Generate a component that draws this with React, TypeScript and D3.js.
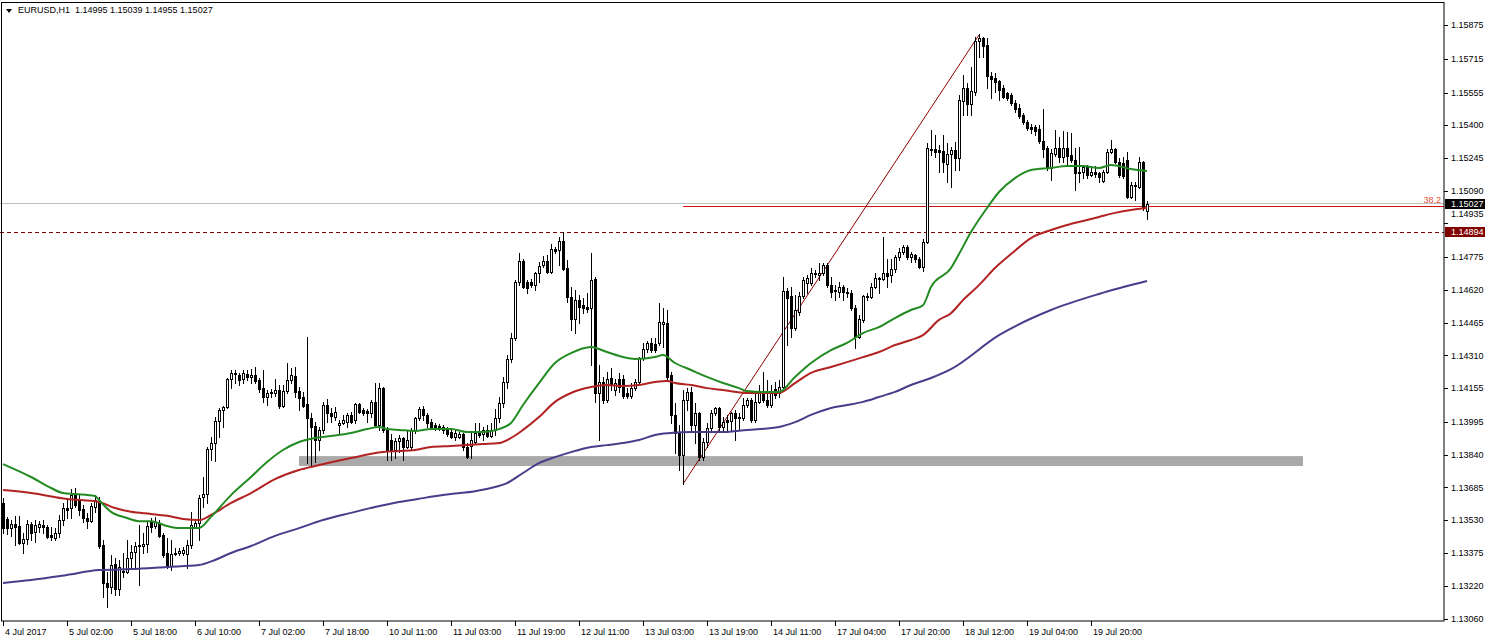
import React from 'react';
import * as d3 from 'd3';

const W = 1487;
const H = 643;

const symbolTitle = 'EURUSD,H1';
const titleValues = ['1.14995', '1.15039', '1.14955', '1.15027'];

const timeLabels = [
  '4 Jul 2017', '5 Jul 02:00', '5 Jul 18:00', '6 Jul 10:00', '7 Jul 02:00', '7 Jul 18:00',
  '10 Jul 11:00', '11 Jul 03:00', '11 Jul 19:00', '12 Jul 11:00', '13 Jul 03:00', '13 Jul 19:00',
  '14 Jul 11:00', '17 Jul 04:00', '17 Jul 20:00', '18 Jul 12:00', '19 Jul 04:00', '19 Jul 20:00',
];
const timeLabelStep = 16;

const priceTicks = [
  1.15875, 1.15715, 1.15555, 1.154, 1.15245, 1.1509, 1.14935, 1.14775, 1.1462, 1.14465,
  1.1431, 1.14155, 1.13995, 1.1384, 1.13685, 1.1353, 1.13375, 1.1322, 1.1306,
];

// [open, high, low, close], one row per H1 bar
const bars: number[][] = [
  [1.13611,1.13634,1.13469,1.13492],[1.13535,1.13545,1.13464,1.13492],[1.13492,1.13530,1.13455,1.13511],[1.13511,1.13550,1.13411,1.13497],
  [1.13502,1.13550,1.13416,1.13421],[1.13421,1.13469,1.13374,1.13440],[1.13440,1.13530,1.13416,1.13511],[1.13511,1.13521,1.13435,1.13469],
  [1.13474,1.13530,1.13426,1.13506],[1.13497,1.13525,1.13474,1.13511],[1.13506,1.13530,1.13469,1.13497],[1.13497,1.13506,1.13445,1.13450],
  [1.13459,1.13497,1.13435,1.13450],[1.13445,1.13492,1.13435,1.13469],[1.13469,1.13554,1.13450,1.13530],[1.13530,1.13611,1.13506,1.13587],
  [1.13587,1.13634,1.13540,1.13578],[1.13587,1.13677,1.13540,1.13648],[1.13648,1.13682,1.13592,1.13601],[1.13625,1.13648,1.13554,1.13578],
  [1.13582,1.13601,1.13521,1.13540],[1.13540,1.13564,1.13492,1.13525],[1.13525,1.13611,1.13521,1.13597],[1.13592,1.13648,1.13569,1.13625],
  [1.13616,1.13639,1.13397,1.13407],[1.13411,1.13435,1.13166,1.13232],[1.13232,1.13284,1.13118,1.13213],[1.13213,1.13364,1.13185,1.13317],
  [1.13322,1.13350,1.13175,1.13203],[1.13203,1.13341,1.13175,1.13308],[1.13284,1.13374,1.13260,1.13289],[1.13284,1.13435,1.13279,1.13350],
  [1.13350,1.13411,1.13308,1.13379],[1.13379,1.13426,1.13303,1.13407],[1.13407,1.13506,1.13222,1.13411],[1.13407,1.13469,1.13374,1.13416],
  [1.13416,1.13521,1.13379,1.13502],[1.13521,1.13540,1.13474,1.13497],[1.13502,1.13545,1.13492,1.13521],[1.13516,1.13530,1.13450,1.13455],
  [1.13459,1.13469,1.13355,1.13364],[1.13374,1.13445,1.13303,1.13308],[1.13313,1.13435,1.13293,1.13369],[1.13374,1.13397,1.13364,1.13369],
  [1.13374,1.13397,1.13364,1.13383],[1.13374,1.13402,1.13364,1.13388],[1.13369,1.13435,1.13303,1.13411],[1.13411,1.13569,1.13397,1.13506],
  [1.13497,1.13525,1.13492,1.13516],[1.13516,1.13648,1.13435,1.13634],[1.13639,1.13734,1.13592,1.13653],[1.13653,1.13876,1.13611,1.13866],
  [1.13866,1.13924,1.13814,1.13895],[1.13895,1.14018,1.13809,1.13999],[1.13999,1.14061,1.13924,1.14051],[1.14051,1.14071,1.13971,1.14066],
  [1.14066,1.14203,1.14061,1.14198],[1.14198,1.14241,1.14155,1.14227],[1.14227,1.14241,1.14179,1.14222],[1.14217,1.14227,1.14170,1.14193],
  [1.14198,1.14241,1.14179,1.14227],[1.14222,1.14241,1.14193,1.14208],[1.14208,1.14245,1.14179,1.14217],[1.14217,1.14255,1.14179,1.14189],
  [1.14193,1.14203,1.14137,1.14150],[1.14155,1.14241,1.14090,1.14113],[1.14113,1.14146,1.14075,1.14132],[1.14132,1.14150,1.14113,1.14137],
  [1.14132,1.14198,1.14118,1.14146],[1.14146,1.14170,1.14061,1.14071],[1.14071,1.14170,1.14066,1.14141],[1.14141,1.14274,1.14132,1.14193],
  [1.14193,1.14250,1.14179,1.14217],[1.14212,1.14255,1.14113,1.14137],[1.14141,1.14160,1.14051,1.14108],[1.14113,1.14137,1.14066,1.14071],
  [1.14080,1.14397,1.13800,1.14013],[1.14013,1.14037,1.13790,1.13971],[1.13976,1.13994,1.13805,1.13909],[1.13909,1.13971,1.13862,1.13957],
  [1.13957,1.14090,1.13942,1.14075],[1.14075,1.14104,1.13994,1.14037],[1.14037,1.14061,1.13994,1.14023],[1.14018,1.14066,1.14004,1.14042],
  [1.13980,1.14004,1.13942,1.13990],[1.13990,1.14028,1.13985,1.14004],[1.13994,1.14037,1.13971,1.14028],[1.14028,1.14042,1.13990,1.13994],
  [1.14004,1.14085,1.13990,1.14080],[1.14080,1.14085,1.14037,1.14042],[1.14051,1.14061,1.14028,1.14037],[1.14047,1.14056,1.13994,1.14037],
  [1.14037,1.14099,1.14018,1.14090],[1.14090,1.14179,1.13971,1.13980],[1.13980,1.14179,1.13957,1.14155],[1.14155,1.14160,1.13947,1.13957],
  [1.13957,1.13971,1.13814,1.13862],[1.13909,1.13938,1.13814,1.13862],[1.13862,1.13919,1.13824,1.13904],[1.13904,1.13933,1.13852,1.13919],
  [1.13919,1.13924,1.13814,1.13876],[1.13876,1.13957,1.13871,1.13909],[1.13876,1.13966,1.13862,1.13957],[1.13957,1.14018,1.13942,1.14013],
  [1.14013,1.14066,1.14004,1.14056],[1.14056,1.14071,1.14004,1.14028],[1.14028,1.14037,1.13971,1.13990],[1.13994,1.14009,1.13966,1.13971],
  [1.13980,1.13990,1.13957,1.13971],[1.13971,1.13985,1.13957,1.13976],[1.13971,1.13980,1.13942,1.13957],[1.13961,1.13971,1.13928,1.13938],
  [1.13947,1.13966,1.13919,1.13924],[1.13924,1.13957,1.13909,1.13942],[1.13924,1.13947,1.13919,1.13938],[1.13938,1.13942,1.13862,1.13876],
  [1.13876,1.13895,1.13824,1.13828],[1.13881,1.13942,1.13824,1.13909],[1.13900,1.13990,1.13895,1.13942],[1.13947,1.13990,1.13924,1.13933],
  [1.13938,1.13971,1.13909,1.13957],[1.13957,1.13980,1.13924,1.13928],[1.13928,1.13990,1.13924,1.13957],[1.13957,1.14056,1.13933,1.14013],
  [1.14013,1.14113,1.13994,1.14085],[1.14085,1.14208,1.14066,1.14184],[1.14184,1.14312,1.14155,1.14293],[1.14293,1.14416,1.14278,1.14392],
  [1.14392,1.14667,1.14383,1.14657],[1.14657,1.14795,1.14643,1.14757],[1.14757,1.14767,1.14629,1.14634],[1.14657,1.14667,1.14605,1.14629],
  [1.14657,1.14671,1.14634,1.14643],[1.14643,1.14705,1.14620,1.14700],[1.14700,1.14752,1.14657,1.14733],[1.14738,1.14781,1.14729,1.14757],
  [1.14757,1.14786,1.14700,1.14705],[1.14705,1.14838,1.14700,1.14814],[1.14814,1.14824,1.14795,1.14805],[1.14809,1.14871,1.14738,1.14852],
  [1.14852,1.14894,1.14714,1.14719],[1.14724,1.14762,1.14563,1.14586],[1.14586,1.14634,1.14430,1.14482],[1.14482,1.14620,1.14416,1.14572],
  [1.14572,1.14596,1.14463,1.14539],[1.14548,1.14582,1.14511,1.14534],[1.14539,1.14605,1.14515,1.14529],[1.14534,1.14795,1.14264,1.14667],
  [1.14671,1.14681,1.14090,1.14132],[1.14132,1.14264,1.13909,1.14184],[1.14184,1.14208,1.14085,1.14099],[1.14099,1.14231,1.14090,1.14198],
  [1.14203,1.14250,1.14146,1.14174],[1.14146,1.14198,1.14122,1.14179],[1.14198,1.14227,1.14137,1.14160],[1.14198,1.14217,1.14108,1.14118],
  [1.14132,1.14155,1.14108,1.14118],[1.14118,1.14179,1.14108,1.14155],[1.14155,1.14198,1.14146,1.14184],[1.14184,1.14302,1.14170,1.14297],
  [1.14297,1.14369,1.14288,1.14340],[1.14340,1.14378,1.14326,1.14369],[1.14369,1.14392,1.14326,1.14335],[1.14364,1.14392,1.14326,1.14335],
  [1.14369,1.14558,1.14359,1.14468],[1.14459,1.14534,1.14350,1.14468],[1.14463,1.14525,1.14193,1.14208],[1.14217,1.14231,1.13990,1.14028],
  [1.14028,1.14085,1.13847,1.13942],[1.13942,1.13980,1.13767,1.13838],[1.13838,1.14146,1.13701,1.14099],[1.14099,1.14155,1.14051,1.14137],
  [1.14137,1.14160,1.13957,1.13980],[1.13980,1.14085,1.13895,1.14037],[1.14037,1.14042,1.13814,1.13828],[1.13828,1.13919,1.13814,1.13900],
  [1.13900,1.13990,1.13876,1.13966],[1.13966,1.14051,1.13957,1.14037],[1.14037,1.14066,1.14028,1.14061],[1.14061,1.14066,1.13957,1.13971],
  [1.13971,1.14018,1.13957,1.13994],[1.14004,1.14028,1.13957,1.13994],[1.13999,1.14042,1.13957,1.14037],[1.14037,1.14051,1.13909,1.14013],
  [1.14013,1.14037,1.13957,1.14018],[1.14013,1.14108,1.14004,1.14075],[1.14075,1.14108,1.14066,1.14099],[1.14099,1.14108,1.13994,1.14004],
  [1.14004,1.14132,1.13994,1.14090],[1.14090,1.14170,1.14085,1.14132],[1.14132,1.14231,1.14090,1.14099],[1.14099,1.14193,1.14066,1.14075],
  [1.14075,1.14170,1.14066,1.14132],[1.14150,1.14184,1.14108,1.14122],[1.14132,1.14193,1.14113,1.14160],[1.14160,1.14681,1.14155,1.14615],
  [1.14615,1.14629,1.14359,1.14582],[1.14591,1.14634,1.14397,1.14440],[1.14440,1.14596,1.14430,1.14525],[1.14515,1.14610,1.14501,1.14591],
  [1.14591,1.14681,1.14582,1.14667],[1.14653,1.14691,1.14605,1.14676],[1.14653,1.14724,1.14643,1.14700],[1.14700,1.14714,1.14681,1.14695],
  [1.14691,1.14748,1.14667,1.14700],[1.14700,1.14748,1.14691,1.14738],[1.14738,1.14748,1.14634,1.14643],[1.14643,1.14681,1.14586,1.14610],
  [1.14620,1.14643,1.14572,1.14615],[1.14610,1.14657,1.14586,1.14634],[1.14634,1.14643,1.14572,1.14610],[1.14610,1.14629,1.14586,1.14605],
  [1.14605,1.14620,1.14525,1.14534],[1.14534,1.14548,1.14345,1.14397],[1.14397,1.14501,1.14392,1.14482],[1.14478,1.14596,1.14468,1.14591],
  [1.14586,1.14605,1.14572,1.14591],[1.14586,1.14653,1.14582,1.14634],[1.14634,1.14700,1.14629,1.14676],[1.14671,1.14681,1.14605,1.14676],
  [1.14671,1.14871,1.14667,1.14700],[1.14700,1.14767,1.14634,1.14686],[1.14691,1.14767,1.14657,1.14719],[1.14719,1.14786,1.14705,1.14776],
  [1.14776,1.14819,1.14762,1.14800],[1.14800,1.14833,1.14790,1.14824],[1.14824,1.14833,1.14767,1.14776],[1.14776,1.14800,1.14752,1.14790],
  [1.14786,1.14790,1.14752,1.14767],[1.14767,1.14776,1.14724,1.14729],[1.14729,1.14861,1.14710,1.14847],[1.14847,1.15316,1.14842,1.15292],
  [1.15288,1.15378,1.15259,1.15283],[1.15288,1.15354,1.15250,1.15273],[1.15283,1.15307,1.15179,1.15273],[1.15278,1.15354,1.15179,1.15226],
  [1.15217,1.15316,1.15131,1.15264],[1.15264,1.15297,1.15108,1.15283],[1.15283,1.15321,1.15188,1.15245],[1.15245,1.15544,1.15188,1.15520],
  [1.15515,1.15638,1.15449,1.15576],[1.15576,1.15600,1.15449,1.15501],[1.15501,1.15676,1.15449,1.15562],[1.15558,1.15818,1.15543,1.15799],
  [1.15799,1.15832,1.15723,1.15813],[1.15813,1.15818,1.15723,1.15776],[1.15780,1.15813,1.15576,1.15633],[1.15633,1.15652,1.15529,1.15619],
  [1.15624,1.15647,1.15558,1.15605],[1.15610,1.15614,1.15520,1.15567],[1.15576,1.15591,1.15529,1.15534],[1.15553,1.15558,1.15520,1.15529],
  [1.15543,1.15553,1.15496,1.15506],[1.15506,1.15520,1.15463,1.15477],[1.15482,1.15501,1.15434,1.15444],[1.15449,1.15458,1.15406,1.15416],
  [1.15416,1.15425,1.15378,1.15387],[1.15392,1.15406,1.15364,1.15382],[1.15392,1.15401,1.15354,1.15373],[1.15382,1.15401,1.15316,1.15326],
  [1.15326,1.15477,1.15250,1.15288],[1.15292,1.15302,1.15188,1.15198],[1.15198,1.15288,1.15141,1.15269],[1.15264,1.15378,1.15255,1.15292],
  [1.15292,1.15345,1.15226,1.15250],[1.15250,1.15373,1.15226,1.15292],[1.15292,1.15368,1.15212,1.15255],[1.15259,1.15363,1.15226,1.15236],
  [1.15236,1.15292,1.15093,1.15174],[1.15174,1.15297,1.15131,1.15179],[1.15179,1.15207,1.15150,1.15203],[1.15203,1.15212,1.15150,1.15165],
  [1.15165,1.15198,1.15160,1.15179],[1.15179,1.15207,1.15155,1.15169],[1.15174,1.15179,1.15131,1.15155],[1.15136,1.15188,1.15131,1.15179],
  [1.15179,1.15288,1.15174,1.15273],[1.15273,1.15330,1.15269,1.15288],[1.15288,1.15292,1.15221,1.15226],[1.15226,1.15245,1.15155,1.15165],
  [1.15221,1.15250,1.15150,1.15160],[1.15236,1.15273,1.15056,1.15061],[1.15061,1.15131,1.15056,1.15117],[1.15117,1.15131,1.15046,1.15112],
  [1.15108,1.15250,1.15103,1.15226],[1.15226,1.15231,1.14999,1.15008],[1.14995,1.15039,1.14955,1.15027],
];

// moving averages: [bar index, price]
const maFast: number[][] = [
  [0,1.13795],[7,1.13734],[12,1.13682],[15,1.13658],[18,1.13653],[23,1.13644],[24,1.13625],[27,1.13569],[31,1.13540],
  [34,1.13525],[37,1.13525],[41,1.13502],[44,1.13492],[49,1.13492],[52,1.13545],[57,1.13648],[62,1.13734],[66,1.13805],
  [70,1.13862],[74,1.13900],[78,1.13919],[82,1.13928],[87,1.13942],[91,1.13961],[94,1.13971],[96,1.13961],[99,1.13957],
  [103,1.13952],[107,1.13961],[112,1.13961],[116,1.13947],[120,1.13947],[124,1.13961],[127,1.13990],[130,1.14075],
  [134,1.14179],[138,1.14274],[142,1.14321],[147,1.14350],[151,1.14326],[155,1.14302],[158,1.14293],[163,1.14302],
  [165,1.14312],[168,1.14274],[172,1.14241],[176,1.14208],[180,1.14179],[184,1.14155],[186,1.14141],[190,1.14137],
  [194,1.14137],[198,1.14208],[202,1.14274],[207,1.14335],[211,1.14369],[215,1.14416],[219,1.14444],[223,1.14487],
  [227,1.14525],[230,1.14548],[232,1.14634],[237,1.14724],[239,1.14790],[242,1.14894],[246,1.15008],[249,1.15084],
  [253,1.15150],[257,1.15188],[262,1.15198],[266,1.15207],[270,1.15207],[274,1.15198],[277,1.15212],[282,1.15193],[286,1.15184],
];
const maMid: number[][] = [
  [0,1.13672],[7,1.13658],[16,1.13630],[24,1.13616],[28,1.13587],[32,1.13569],[37,1.13559],[41,1.13550],[45,1.13535],
  [49,1.13530],[52,1.13554],[57,1.13611],[62,1.13658],[68,1.13724],[74,1.13767],[78,1.13786],[87,1.13824],[95,1.13852],
  [99,1.13857],[103,1.13862],[107,1.13876],[112,1.13881],[120,1.13890],[124,1.13895],[127,1.13919],[130,1.13957],
  [134,1.14018],[138,1.14090],[142,1.14132],[147,1.14160],[151,1.14170],[155,1.14165],[159,1.14170],[163,1.14184],
  [166,1.14189],[168,1.14179],[172,1.14170],[176,1.14155],[180,1.14146],[186,1.14132],[194,1.14132],[198,1.14179],
  [202,1.14227],[207,1.14255],[211,1.14278],[215,1.14302],[219,1.14326],[223,1.14359],[227,1.14383],[230,1.14406],
  [234,1.14478],[237,1.14510],[240,1.14572],[244,1.14643],[248,1.14724],[252,1.14790],[257,1.14866],[262,1.14904],
  [266,1.14928],[270,1.14947],[274,1.14966],[278,1.14985],[282,1.14999],[286,1.15008],
];
const maSlow: number[][] = [
  [0,1.13232],[7,1.13246],[16,1.13270],[24,1.13293],[32,1.13298],[41,1.13308],[49,1.13317],[53,1.13341],[57,1.13374],
  [62,1.13407],[68,1.13455],[74,1.13492],[80,1.13530],[87,1.13564],[93,1.13592],[99,1.13616],[105,1.13634],[112,1.13653],
  [118,1.13667],[122,1.13682],[126,1.13705],[130,1.13753],[134,1.13800],[138,1.13828],[142,1.13852],[147,1.13876],
  [151,1.13885],[155,1.13895],[159,1.13909],[163,1.13933],[167,1.13942],[172,1.13947],[180,1.13947],[186,1.13957],
  [194,1.13971],[198,1.13994],[202,1.14028],[207,1.14061],[211,1.14075],[215,1.14090],[219,1.14113],[223,1.14137],
  [227,1.14170],[232,1.14203],[237,1.14245],[249,1.14406],[262,1.14525],[274,1.14601],[286,1.14662],
];

const bidPrice = 1.15027;
const hLinePrice = 1.14894;
const fibStart = [170, 1.13701];
const fibEnd = [244, 1.15828];
const fibLevel = 38.2;
const zoneBars = [74, 325];
const zonePrices = [1.13833, 1.13786];

const FONT = '"Liberation Sans", Arial, sans-serif';
const FS = 9;

export default function App() {
  const plotRight = 1444;
  const plotBottom = 621;
  const n = bars.length;
  const x = d3.scaleLinear().domain([0, n - 1]).range([3, 3 + 4 * (n - 1)]);
  const y = d3.scaleLinear().domain([1.1306, 1.15875]).range([619.3, 25]);
  const fmt = d3.format('.5f');

  const line = d3
    .line<number[]>()
    .x((d) => x(d[0]))
    .y((d) => y(d[1]))
    .curve(d3.curveMonotoneX);

  const fibPrice = fibEnd[1] - (fibLevel / 100) * (fibEnd[1] - fibStart[1]);
  const bidY = Math.round(y(bidPrice));
  const hY = Math.round(y(hLinePrice));

  const candles = bars.map(([o, h, l, c], i) => {
    const cx = Math.round(x(i)) + 0.5;
    const yo = Math.round(y(o));
    const yc = Math.round(y(c));
    const top = Math.min(yo, yc);
    const bot = Math.max(yo, yc);
    const up = c >= o;
    return (
      <g key={i}>
        <line x1={cx} x2={cx} y1={Math.round(y(h))} y2={Math.round(y(l)) + 1} stroke="#000" strokeWidth={1} />
        {bot - top < 1 ? (
          <line x1={cx - 1.5} x2={cx + 1.5} y1={top + 0.5} y2={top + 0.5} stroke="#000" />
        ) : (
          <rect x={cx - 1} y={top + 0.5} width={2} height={bot - top} fill={up ? '#fff' : '#000'} stroke="#000" strokeWidth={1} />
        )}
      </g>
    );
  });

  const tickLabelY = (p: number) => {
    const ty = y(p);
    if (Math.abs(ty - hY) < 10) return hY - 18;
    return ty;
  };

  return (
    <svg
      width={W}
      height={H}
      style={{ position: 'absolute', left: 0, top: 0, background: '#fff' }}
      fontFamily={FONT}
      fontSize={FS}
    >
      <rect x={0} y={0} width={W} height={H} fill="#fff" />
      {/* support zone */}
      <rect
        x={x(zoneBars[0])}
        y={y(zonePrices[0])}
        width={x(zoneBars[1]) - x(zoneBars[0])}
        height={y(zonePrices[1]) - y(zonePrices[0])}
        fill="#a9a9a9"
      />
      {/* bid line */}
      <line x1={0} x2={plotRight} y1={bidY - 0.5} y2={bidY - 0.5} stroke="#c0c0c0" />
      {/* horizontal dashed line */}
      <line x1={0} x2={plotRight} y1={hY + 0.5} y2={hY + 0.5} stroke="#800000" strokeDasharray="4,3" />
      {/* fibonacci */}
      <line x1={x(fibStart[0])} y1={y(fibStart[1])} x2={x(fibEnd[0])} y2={y(fibEnd[1])} stroke="#8b0000" strokeWidth={1} />
      <line x1={x(fibStart[0])} x2={plotRight} y1={Math.round(y(fibPrice)) + 0.5} y2={Math.round(y(fibPrice)) + 0.5} stroke="#d01414" />
      <text x={plotRight - 3} y={y(fibPrice) - 3} textAnchor="end" fill="#e8503a" fontSize={9}>
        {fibLevel.toFixed(1)}
      </text>
      {candles}
      {/* moving averages */}
      <path d={line(maSlow) || ''} fill="none" stroke="#483d8b" strokeWidth={2} />
      <path d={line(maMid) || ''} fill="none" stroke="#b22222" strokeWidth={2} />
      <path d={line(maFast) || ''} fill="none" stroke="#228b22" strokeWidth={2} />
      {/* frame */}
      <rect x={1.5} y={2.5} width={plotRight - 1.5} height={plotBottom - 2.5} fill="none" stroke="#000" />
      {/* price axis */}
      {priceTicks.map((p) => (
        <g key={p}>
          <line x1={plotRight} x2={plotRight + 4} y1={Math.round(y(p)) + 0.5} y2={Math.round(y(p)) + 0.5} stroke="#000" />
          <text x={plotRight + 7} y={tickLabelY(p)} dy="0.35em" fill="#000">
            {fmt(p)}
          </text>
        </g>
      ))}
      <rect x={plotRight + 1} y={bidY - 5} width={W - plotRight - 3} height={10} fill="#000" />
      <text x={plotRight + 7} y={bidY} dy="0.35em" fill="#fff">
        {fmt(bidPrice)}
      </text>
      <rect x={plotRight + 1} y={hY - 5} width={W - plotRight - 3} height={10} fill="#800000" />
      <text x={plotRight + 7} y={hY} dy="0.35em" fill="#fff">
        {fmt(hLinePrice)}
      </text>
      {/* time axis */}
      {timeLabels.map((t, k) => {
        const tx = Math.round(x(k * timeLabelStep)) + 0.5;
        return (
          <g key={t}>
            <line x1={tx} x2={tx} y1={plotBottom} y2={plotBottom + 5} stroke="#000" />
            <text x={tx + 1.5} y={plotBottom + 11} dy="0.35em" fill="#000">
              {t}
            </text>
          </g>
        );
      })}
      {/* title */}
      <polygon points="6,9 12,9 9,13" fill="#000" />
      <text x={18} y={10} dy="0.35em" fill="#000" style={{ whiteSpace: 'pre' }}>
        {`${symbolTitle}  ${titleValues.join(' ')}`}
      </text>
    </svg>
  );
}
